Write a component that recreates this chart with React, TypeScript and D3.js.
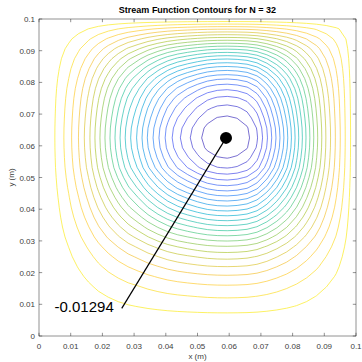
import * as d3 from "d3";

// minimum of the stream function and where it sits (m)
const psiMin = -0.01294;
const minPoint = [0.059, 0.0625];
const labelPoint = [0.0261, 0.0087];
const labelText = "-0.01294";

// psi / psiMin read along y = 0.0625, x = 0 .. 0.1 in 32 steps
const xProfile = [
  0, 0.016, 0.056, 0.103, 0.161, 0.229, 0.308, 0.387, 0.466, 0.543, 0.61,
  0.685, 0.753, 0.817, 0.869, 0.91, 0.947, 0.978, 0.995, 1.0, 0.992, 0.972,
  0.925, 0.846, 0.753, 0.652, 0.544, 0.435, 0.333, 0.236, 0.153, 0.073, 0,
];
// psi / psiMin read along x = 0.059, y = 0 .. 0.1 in 32 steps
const yProfile = [
  0, 0.01, 0.031, 0.058, 0.084, 0.115, 0.154, 0.2, 0.253, 0.316, 0.391,
  0.469, 0.549, 0.631, 0.709, 0.788, 0.858, 0.923, 0.962, 0.99, 1.0, 0.992,
  0.967, 0.934, 0.891, 0.832, 0.756, 0.662, 0.556, 0.435, 0.3, 0.156, 0,
];
// how square the outer contours turn in each corner (0 = round)
// bottom-left, bottom-right, top-left, top-right
const cornerShape = [0.12, 0.15, 0.0, 0.3];

const nLevels = 24;
const tickValues = [0, 0.01, 0.02, 0.03, 0.04, 0.05, 0.06, 0.07, 0.08, 0.09, 0.1];
const tickLabels = ["0", "0.01", "0.02", "0.03", "0.04", "0.05", "0.06", "0.07", "0.08", "0.09", "0.1"];
const parula = ["#3e26a8", "#4852f4", "#2d87f7", "#12b1d6", "#37c897", "#abc739", "#fec338", "#f9fb15"];

const W = 362;
const H = 362;
const margin = { top: 19, right: 6, bottom: 26, left: 39 };
const font = "'Liberation Sans', Arial, Helvetica, sans-serif";

export default function App() {
  const x = d3.scaleLinear().domain([0, 0.1]).range([margin.left, W - margin.right]);
  const y = d3.scaleLinear().domain([0, 0.1]).range([H - margin.bottom, margin.top]);

  // grid N = 32 -> 33 nodes; d3.contours puts node i at i + 0.5
  const n = xProfile.length;
  const gx = d3.scaleLinear().domain([0.5, n - 0.5]).range(x.range());
  const gy = d3.scaleLinear().domain([0.5, n - 0.5]).range(y.range());

  const [qbl, qbr, qtl, qtr] = cornerShape;
  const depth = d3.range(n * n).map((k) => {
    const i = k % n;
    const j = Math.floor(k / n);
    const f = xProfile[i];
    const g = yProfile[j];
    if (f <= 0 || g <= 0) return 0;
    const u = i / (n - 1);
    const v = j / (n - 1);
    const q = (1 - v) * ((1 - u) * qbl + u * qbr) + v * ((1 - u) * qtl + u * qtr);
    const s = q < 1e-3 ? f * g : Math.pow(Math.pow(f, -q) + Math.pow(g, -q) - 1, -1 / q);
    return -psiMin * s;
  });

  const levels = d3.range(1, nLevels + 1).map((k) => (psiMin * k) / (nLevels + 1));
  const contours = d3
    .contours()
    .size([n, n])
    .thresholds(levels.map((l) => -l))(depth);

  const color = d3.piecewise(d3.interpolateRgb, parula);
  const colorScale = d3.scaleLinear().domain([psiMin, 0]).range([0, 1]);

  const path = d3.geoPath(
    d3.geoTransform({
      point(px: number, py: number) {
        this.stream.point(gx(px), gy(py));
      },
    })
  );

  const [x0, x1] = x.range();
  const [y0, y1] = y.range();
  const tickLen = 3.2;

  return (
    <svg
      width={W}
      height={H}
      style={{ position: "absolute", left: 0, top: 0, background: "#fff" }}
    >
      <rect x={x0} y={y1} width={x1 - x0} height={y0 - y1} fill="#fff" />
      <g fill="none" strokeWidth={0.7}>
        {contours.map((c, i) => (
          <path key={i} d={path(c as any) || ""} stroke={color(colorScale(-c.value))} />
        ))}
      </g>

      {/* box and inward ticks */}
      <g stroke="#262626" strokeWidth={0.5} fill="none">
        <rect x={x0} y={y1} width={x1 - x0} height={y0 - y1} />
        {tickValues.map((t, i) => (
          <g key={i}>
            <line x1={x(t)} x2={x(t)} y1={y0} y2={y0 - tickLen} />
            <line x1={x(t)} x2={x(t)} y1={y1} y2={y1 + tickLen} />
            <line x1={x0} x2={x0 + tickLen} y1={y(t)} y2={y(t)} />
            <line x1={x1} x2={x1 - tickLen} y1={y(t)} y2={y(t)} />
          </g>
        ))}
      </g>

      <g fontFamily={font} fontSize={8} fill="#404040">
        {tickValues.map((t, i) => (
          <text key={"x" + i} x={x(t)} y={y0 + 13} textAnchor="middle">
            {tickLabels[i]}
          </text>
        ))}
        {tickValues.map((t, i) => (
          <text key={"y" + i} x={x0 - 4} y={y(t) + 3} textAnchor="end">
            {tickLabels[i]}
          </text>
        ))}
        <text x={(x0 + x1) / 2} y={359} textAnchor="middle">
          x (m)
        </text>
        <text
          transform={`translate(14,${(y0 + y1) / 2}) rotate(-90)`}
          textAnchor="middle"
        >
          y (m)
        </text>
      </g>

      <text
        x={(x0 + x1) / 2}
        y={13}
        textAnchor="middle"
        fontFamily={font}
        fontSize={9}
        fontWeight="bold"
        fill="#000"
      >
        Stream Function Contours for N = 32
      </text>

      {/* minimum marker */}
      <line
        x1={x(minPoint[0])}
        y1={y(minPoint[1])}
        x2={x(labelPoint[0])}
        y2={y(labelPoint[1])}
        stroke="#000"
        strokeWidth={1.2}
      />
      <circle cx={x(minPoint[0])} cy={y(minPoint[1])} r={6} fill="#000" />
      <text
        x={x(labelPoint[0]) - 8}
        y={y(labelPoint[1]) + 4}
        textAnchor="end"
        fontFamily={font}
        fontSize={15}
        fill="#000"
      >
        {labelText}
      </text>
    </svg>
  );
}
